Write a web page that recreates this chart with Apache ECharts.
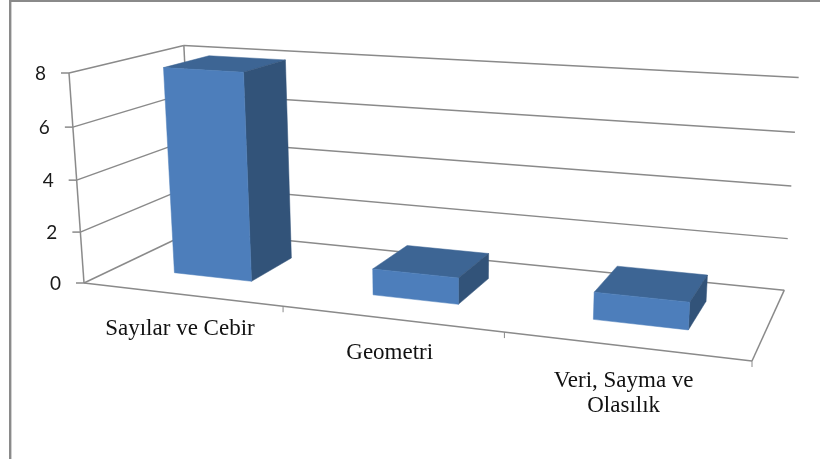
<!DOCTYPE html>
<html>
<head>
<meta charset="utf-8">
<style>html,body{margin:0;padding:0;background:#fff}#c{width:820px;height:459px}</style>
<script src="https://cdn.jsdelivr.net/npm/echarts@6/dist/echarts.min.js"></script>
</head>
<body>
<div id="c"></div>
<script>
const categories = ['Sayılar ve Cebir', 'Geometri', 'Veri, Sayma ve\nOlasılık'];
const values = [8, 1, 1];
const yTicks = [0, 2, 4, 6, 8];

const LINE = '#8a8a8a';
const BAR_W = 0.4, DEPTH0 = 0.29, DEPTH1 = 0.71;

// Projective frame of the 3D box: corner pixels + homogeneous weights
const O = [84, 283], U = [752, 361], V = [69, 73], W = [193, 231];
const wa = 0.849, wb = 0.96, wc = 1.138;

function projector(api) {
  const p0 = api.coord([0, 0]), p1 = api.coord([3, 8]);
  return function (xv, yv, d) {
    const p = api.coord([xv, yv]);
    const u = (p[0] - p0[0]) / (p1[0] - p0[0]);
    const v = (p[1] - p0[1]) / (p1[1] - p0[1]);
    const h = 1 + u * (wa - 1) + v * (wb - 1) + d * (wc - 1);
    const x = O[0] + u * (wa * U[0] - O[0]) + v * (wb * V[0] - O[0]) + d * (wc * W[0] - O[0]);
    const y = O[1] + u * (wa * U[1] - O[1]) + v * (wb * V[1] - O[1]) + d * (wc * W[1] - O[1]);
    return [x / h, y / h];
  };
}
const seg = (a, b, w) => ({
  type: 'line',
  shape: { x1: a[0], y1: a[1], x2: b[0], y2: b[1] },
  style: { stroke: LINE, lineWidth: w || 1.5 }
});
const poly = (pts, fill) => ({ type: 'polygon', shape: { points: pts }, style: { fill: fill, stroke: fill, lineWidth: 0.5 } });

function renderValueTick(params, api) {
  const P = projector(api), val = api.value(0);
  const a = P(0, val, 0), b = P(0, val, 1), c = P(3, val, 1);
  const kids = [seg(a, b), seg(b, c), seg([a[0] - 8, a[1]], a),
    { type: 'text', style: { text: String(val), x: a[0] - 23, y: a[1] + 1, align: 'right', verticalAlign: 'middle',
      font: '19px Lato', fill: '#1a1a1a' } }];
  return { type: 'group', children: kids };
}
function renderFrame(params, api) {
  const P = projector(api);
  return { type: 'group', children: [
    seg(P(0, 0, 0), P(0, 8, 0)),
    seg(P(0, 0, 1), P(0, 8, 1)),
    seg(P(0, 0, 0), P(3, 0, 0)),
    seg(P(3, 0, 0), P(3, 0, 1))
  ] };
}
function renderCategory(params, api) {
  const P = projector(api), i = api.value(0);
  const e = P(i + 1, 0, 0), m = P(i + 0.5, 0, 0);
  return { type: 'group', children: [
    seg(e, [e[0], e[1] + 6], 1),
    { type: 'text', style: { text: categories[i], x: m[0] - 1, y: m[1] + 22, align: 'center', verticalAlign: 'top',
      font: '23px "Liberation Serif"', lineHeight: 25, fill: '#111' } }
  ] };
}
function renderBar(params, api) {
  const P = projector(api);
  const c = api.value(0), val = api.value(1);
  const x0 = c - BAR_W / 2, x1 = c + BAR_W / 2;
  const f = (x, y, d) => P(x, y, d);
  return { type: 'group', children: [
    poly([f(x0, val, DEPTH0), f(x1, val, DEPTH0), f(x1, val, DEPTH1), f(x0, val, DEPTH1)], '#3d6594'),
    poly([f(x1, 0, DEPTH0), f(x1, val, DEPTH0), f(x1, val, DEPTH1), f(x1, 0, DEPTH1)], '#325379'),
    poly([f(x0, 0, DEPTH0), f(x1, 0, DEPTH0), f(x1, val, DEPTH0), f(x0, val, DEPTH0)], '#4d7ebb')
  ] };
}

const chart = echarts.init(document.getElementById('c'), null, { renderer: 'canvas' });
chart.setOption({
  animation: false,
  backgroundColor: '#fff',
  grid: { left: 100, top: 100, width: 600, height: 240 },
  xAxis: { type: 'value', min: 0, max: 3, show: false },
  yAxis: { type: 'value', min: 0, max: 8, interval: 2, show: false },
  graphic: [
    { type: 'line', shape: { x1: 10.2, y1: 0, x2: 10.2, y2: 459 }, style: { stroke: '#8a8a8a', lineWidth: 2.4 } },
    { type: 'line', shape: { x1: 9, y1: 1, x2: 820, y2: 1 }, style: { stroke: '#8a8a8a', lineWidth: 2 } }
  ],
  series: [
    { type: 'custom', coordinateSystem: 'cartesian2d', silent: true, renderItem: renderValueTick,
      data: yTicks.map(t => [t]), encode: { y: 0 } },
    { type: 'custom', coordinateSystem: 'cartesian2d', silent: true, renderItem: renderFrame,
      data: [[0]] , encode: { y: 0 } },
    { type: 'custom', coordinateSystem: 'cartesian2d', silent: true, renderItem: renderCategory,
      data: categories.map((c, i) => [i]), encode: { x: 0 } },
    { type: 'custom', coordinateSystem: 'cartesian2d', silent: true, renderItem: renderBar,
      data: values.map((v, i) => [i + 0.5, v]), encode: { x: 0, y: 1 } }
  ]
});
</script>
</body>
</html>
